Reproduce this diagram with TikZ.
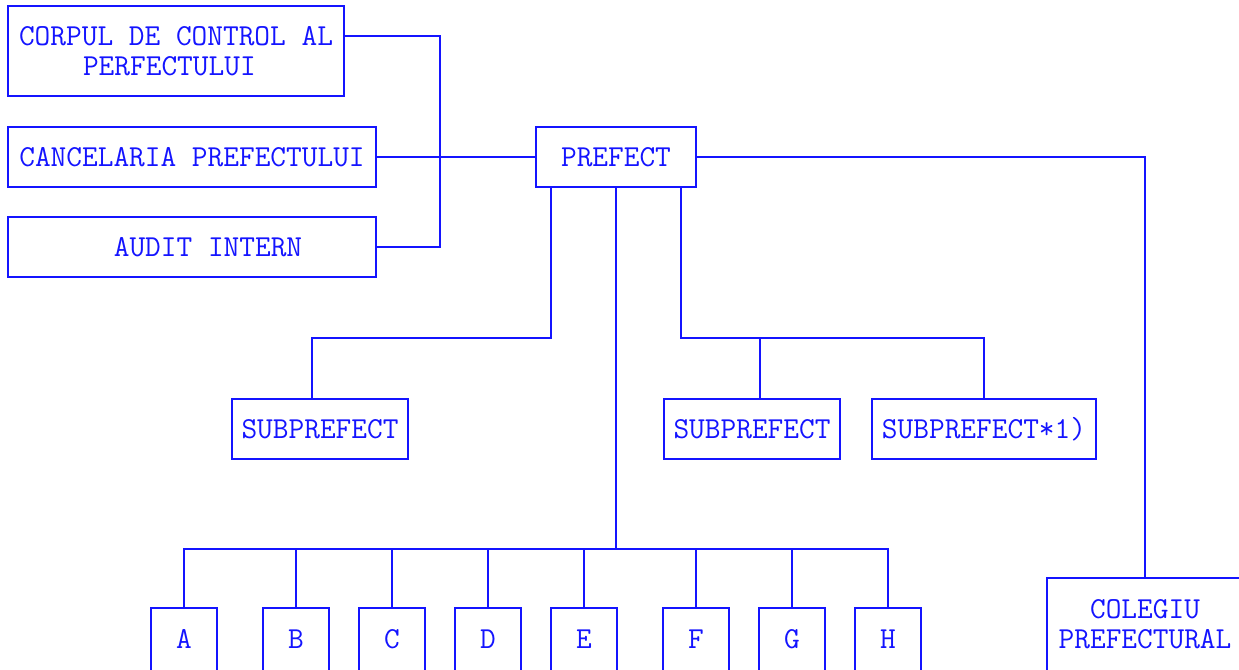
\documentclass[tikz,border=0pt]{standalone}
\usepackage{fontspec}
\usetikzlibrary{calc}
\definecolor{boxblue}{RGB}{20,20,255}
\def\upx{0.75pt}
\begin{document}
\begin{tikzpicture}[x=0.75pt,y=-0.75pt, line width=1.6pt, color=boxblue,
  lbl/.style={font=\ttfamily\fontsize{22.86pt}{22.5pt}\selectfont, text=boxblue, inner sep=0pt},
  one/.style={text height=17.97pt, text depth=4pt},
  box/.style={lbl, draw=boxblue, minimum width=#1*\upx, minimum height=60*\upx},
  cut/.style={lbl, minimum width=#1*\upx, minimum height=60*\upx}]
\useasboundingbox (0,0) rectangle (1239,670);
\clip (0,0) rectangle (1239,670);

% upper-left boxes
\node[box=336, minimum height=90*\upx, align=left] (corpul) at (176,51) {CORPUL DE CONTROL AL\\\hspace*{2.1em}PERFECTULUI};
\node[box=368, one] (canc) at (192,157) {CANCELARIA PREFECTULUI};
\node[box=368, one] (audit) at (192,247) {\hspace*{1.05em}AUDIT INTERN};
\node[box=160, one] (pref) at (616,157) {PREFECT};

% subprefects
\node[box=176, one] (sub1) at (320,429) {SUBPREFECT};
\node[box=176, one] (sub2) at (752,429) {SUBPREFECT};
\node[box=224, one] (sub3) at (984,429) {SUBPREFECT*1)};

% bottom boxes (cut off)
\foreach \n/\x in {A/184,B/296,C/392,D/488,E/584,F/696,G/792,H/888}
  \node[cut=64, one] (\n) at (\x,639) {\n};
\node[cut=194, minimum height=90*\upx, align=center] (coleg) at (1145,624) {COLEGIU\\PREFECTURAL};
\foreach \n in {A,B,C,D,E,F,G,H,coleg}
  \draw ($(\n.south west)+(0,20)$) -- (\n.north west) -- (\n.north east) -- ($(\n.south east)+(0,20)$);

% left spine
\coordinate (spB) at (440,247);
\draw ($(corpul.north east)!0.3333!(corpul.south east)$) -| (spB) -- (audit.east);
\draw (canc.east) -- (pref.west);

% prefect to colegiu
\draw (pref.east) -| (coleg.north);

% prefect to subprefects
\coordinate (k1) at (312,338);
\coordinate (k2) at (984,338);
\coordinate (k3) at (760,338);
\draw ($(pref.south west)+(16,0)$) |- (k1) -- (k1 |- sub1.north);
\draw ($(pref.south east)+(-16,0)$) |- (k2) -- (sub3.north);
\draw (k3) -- (k3 |- sub2.north);

% prefect to A..H
\coordinate (k4) at (616,549);
\draw (pref.south) -- (k4);
\draw (A.north) |- (k4);
\draw (H.north) |- (k4);
\foreach \n in {B,C,D,E,F,G}
  \draw (\n.north) -- (\n.north |- k4);
\end{tikzpicture}
\end{document}
